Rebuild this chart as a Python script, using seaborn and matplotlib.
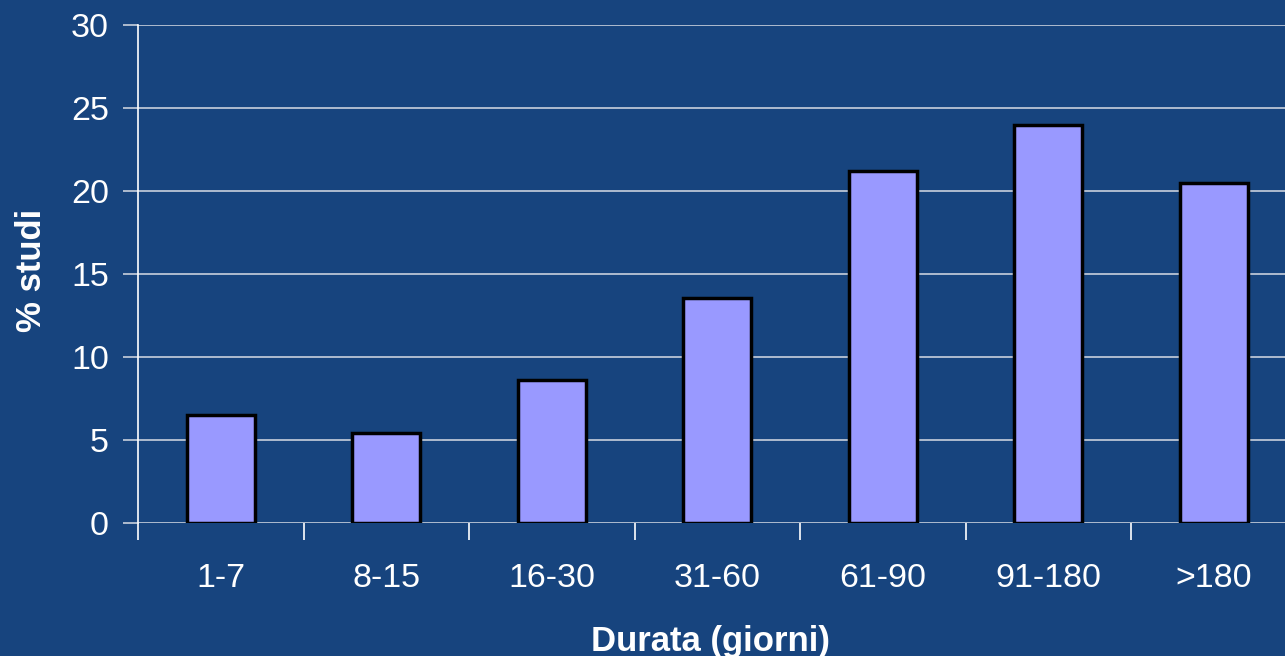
import numpy as np
import pandas as pd
import matplotlib
matplotlib.use("Agg")
import matplotlib.pyplot as plt
import seaborn as sns

# Data
durata = ["1-7", "8-15", "16-30", "31-60", "61-90", "91-180", ">180"]
perc_studi = [6.5, 5.4, 8.6, 13.55, 21.2, 24.0, 20.5]

df = pd.DataFrame({"Durata": durata, "Perc": perc_studi})

bg = "#17447E"
sns.set_style("white")
plt.rcParams["font.family"] = ["Liberation Sans", "DejaVu Sans"]

fig = plt.figure(figsize=(12.85, 6.56), dpi=100, facecolor=bg)
ax = fig.add_axes([138 / 1285, 133 / 656, 1158.5 / 1285, 498 / 656])
ax.set_facecolor(bg)

sns.barplot(x="Durata", y="Perc", data=df, color="#9999FF", saturation=1,
            width=0.41, edgecolor="black", linewidth=2.5, ax=ax, zorder=3)

ax.set_ylim(0, 30)
ax.set_xlim(-0.5, 6.5)
ax.set_yticks(np.arange(0, 31, 5))
ax.yaxis.grid(True, color="#C8D0DC", linewidth=1.2, zorder=0)
ax.set_axisbelow(True)

for s in ["top", "right", "bottom"]:
    ax.spines[s].set_visible(False)
ax.spines["left"].set_color("white")
ax.spines["left"].set_linewidth(1.2)

ax.tick_params(axis="y", labelcolor="white", labelsize=24.5, length=11,
               width=1.2, direction="out", left=True, pad=10, color="#C8D0DC")
ax.set_xticks(np.arange(-0.5, 7, 1), minor=True)
ax.tick_params(axis="x", which="major", length=0, labelsize=24.5,
               labelcolor="white", pad=29)
ax.tick_params(axis="x", which="minor", length=12, width=1.2, color="white",
               bottom=True, direction="out")

ax.set_xlabel("Durata (giorni)", color="white", fontsize=25, fontweight="bold")
ax.set_ylabel("% studi", color="white", fontsize=25, fontweight="bold")
ax.xaxis.set_label_coords(0.4946, -0.205)
ax.yaxis.set_label_coords(-0.092, 0.508)
ax.xaxis.label.set_va("top")
ax.yaxis.label.set_va("center")

plt.savefig("out.png", dpi=100, facecolor=bg)
